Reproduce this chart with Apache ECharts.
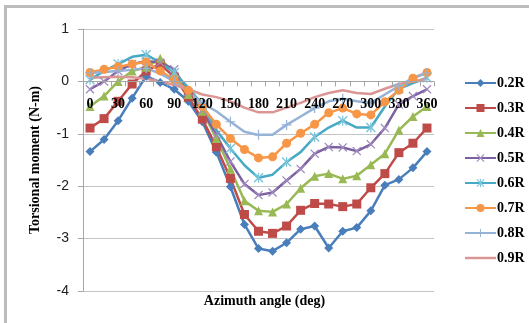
<!DOCTYPE html>
<html>
<head>
<meta charset="utf-8">
<script src="https://cdn.jsdelivr.net/npm/echarts@6.0.0/dist/echarts.min.js"></script>
<style>
  html, body { margin: 0; padding: 0; background: #fff; overflow: hidden; }
  #frame { position: absolute; left: 4px; top: 5px; width: 560px; height: 340px; border: 3px solid #bcbcbc; }
  #chart { position: absolute; left: 0; top: 0; width: 529px; height: 323px; }
</style>
</head>
<body>
<div id="frame"></div>
<div id="chart"></div>
<script>
// 方位角 (deg)
const angles = ['0', '15', '30', '45', '60', '75', '90', '105', '120', '135', '150', '165', '180',
  '195', '210', '225', '240', '255', '270', '285', '300', '315', '330', '345', '360']

const r02 = [-1.34, -1.11, -0.75, -0.32, 0.1, -0.02, -0.15, -0.38, -0.77, -1.35, -2.01, -2.73, -3.19,
  -3.24, -3.08, -2.82, -2.76, -3.18, -2.86, -2.79, -2.47, -1.98, -1.87, -1.65, -1.34]
const r03 = [-0.89, -0.71, -0.38, -0.05, 0.2, 0.33, 0.08, -0.3, -0.72, -1.25, -1.85, -2.54, -2.86,
  -2.9, -2.76, -2.46, -2.33, -2.34, -2.39, -2.34, -2.03, -1.76, -1.36, -1.18, -0.89]
const r04 = [-0.48, -0.28, 0.0, 0.2, 0.27, 0.44, 0.15, -0.25, -0.57, -1.09, -1.67, -2.28, -2.47,
  -2.49, -2.34, -2.04, -1.81, -1.76, -1.86, -1.8, -1.59, -1.38, -0.93, -0.67, -0.48]
const r05 = [-0.15, 0.0, 0.2, 0.33, 0.39, 0.36, 0.23, -0.2, -0.55, -1.02, -1.53, -1.96, -2.17,
  -2.12, -1.89, -1.67, -1.38, -1.25, -1.26, -1.33, -1.2, -0.89, -0.44, -0.28, -0.15]
const r06 = [0.03, 0.2, 0.33, 0.47, 0.51, 0.36, 0.17, -0.12, -0.44, -0.93, -1.28, -1.6, -1.84,
  -1.78, -1.54, -1.35, -1.06, -0.88, -0.75, -0.88, -0.88, -0.48, -0.14, -0.03, 0.07]
const r07 = [0.17, 0.23, 0.28, 0.33, 0.37, 0.2, 0.03, -0.17, -0.48, -0.82, -1.09, -1.3, -1.46,
  -1.44, -1.18, -0.99, -0.82, -0.6, -0.51, -0.62, -0.64, -0.39, -0.17, 0.06, 0.17]
const r08 = [0.16, 0.18, 0.2, 0.22, 0.25, 0.15, 0.0, -0.2, -0.42, -0.57, -0.77, -0.96, -1.02,
  -1.02, -0.83, -0.67, -0.51, -0.38, -0.33, -0.38, -0.41, -0.25, -0.09, 0.07, 0.16]
const r09 = [0.07, 0.08, 0.09, 0.08, 0.05, 0.0, -0.07, -0.15, -0.25, -0.3, -0.38, -0.5, -0.59,
  -0.59, -0.5, -0.41, -0.3, -0.22, -0.17, -0.22, -0.24, -0.14, -0.05, 0.0, 0.05]

const names = ['0.2R', '0.3R', '0.4R', '0.5R', '0.6R', '0.7R', '0.8R', '0.9R']
const yTicks = [-4, -3, -2, -1, 0, 1]

// 标记形状
const X_MARK = 'path://M0,1L1,0L5,4L9,0L10,1L6,5L10,9L9,10L5,6L1,10L0,9L4,5Z'
const STAR_MARK = 'path://M0,1L1,0L5,4L9,0L10,1L6,5L10,9L9,10L5,6L1,10L0,9L4,5Z M4.4,0L5.6,0L5.6,10L4.4,10Z'
const PLUS_MARK = 'path://M4.4,0H5.6V4.4H10V5.6H5.6V10H4.4V5.6H0V4.4H4.4Z'
const BAR_MARK = 'path://M0,0H48V3.8H0Z'

const styles = [
  { color: '#4A7EBB', symbol: 'diamond', size: 9 },
  { color: '#BE4B48', symbol: 'rect', size: 9 },
  { color: '#98B954', symbol: 'triangle', size: 9 },
  { color: '#7D60A0', symbol: X_MARK, size: 9, markColor: '#A08CC0' },
  { color: '#46AAC5', symbol: STAR_MARK, size: 10, markColor: '#7CC4DA' },
  { color: '#F79646', symbol: 'circle', size: 9 },
  { color: '#95B3D7', symbol: PLUS_MARK, size: 10 },
  { color: '#D99694', symbol: 'none', size: 0 }
]

const seriesData = [r02, r03, r04, r05, r06, r07, r08, r09]

// 网格
const gridTop = 29
const gridBottom = 32
const plotH = 323 - gridTop - gridBottom
const zeroFromBottom = plotH * (0 - yTicks[0]) / (yTicks[yTicks.length - 1] - yTicks[0])

const option = {
  animation: false,
  backgroundColor: 'transparent',
  grid: { left: 83, right: 95, top: gridTop, bottom: gridBottom },
  legend: {
    orient: 'vertical',
    left: 459,
    top: 71,
    itemWidth: 31,
    itemHeight: 10,
    itemGap: 11,
    data: names.map(n => n === '0.9R' ? { name: n, icon: BAR_MARK } : n),
    textStyle: { fontFamily: 'Liberation Serif', fontWeight: 'bold', fontSize: 14, color: '#000', padding: [0, 0, 0, -4] }
  },
  graphic: [
    {
      type: 'text', left: 'center', top: 294,
      style: { text: 'Azimuth angle (deg)', font: 'bold 14px "Liberation Serif"', fill: '#000' },
      x: -5
    },
    {
      type: 'text', x: 35, y: 160, rotation: Math.PI / 2,
      style: { text: 'Torsional moment (N-m)', font: 'bold 14px "Liberation Serif"', fill: '#000', align: 'center', verticalAlign: 'middle' }
    }
  ],
  xAxis: {
    type: 'category',
    data: angles,
    boundaryGap: true,
    position: 'bottom',
    offset: -zeroFromBottom,
    z: 5,
    axisLine: { onZero: false, lineStyle: { color: '#a6a6a6', width: 1 } },
    axisTick: { show: true, interval: 0, length: 5, lineStyle: { color: '#a6a6a6' } },
    axisLabel: { interval: 1, margin: 16, hideOverlap: false, fontFamily: 'Liberation Serif', fontWeight: 'bold', fontSize: 14, color: '#000' },
    splitLine: { show: false }
  },
  yAxis: {
    type: 'value',
    min: yTicks[0],
    max: yTicks[yTicks.length - 1],
    interval: 1,
    axisLine: { show: true, lineStyle: { color: '#a6a6a6' } },
    axisTick: { show: true, length: 5, lineStyle: { color: '#a6a6a6' } },
    axisLabel: { margin: 14, fontFamily: 'Liberation Sans', fontSize: 14, color: '#222' },
    splitLine: { lineStyle: { color: '#c4c4c4', width: 1 } }
  },
  series: seriesData.map((d, i) => ({
    name: names[i],
    type: 'line',
    data: d,
    symbol: styles[i].symbol,
    symbolSize: styles[i].size,
    showSymbol: styles[i].symbol !== 'none',
    lineStyle: { color: styles[i].color, width: 2.5 },
    itemStyle: { color: styles[i].markColor || styles[i].color },
    emphasis: { disabled: true }
  }))
}

const chart = echarts.init(document.getElementById('chart'), null, { renderer: 'canvas' })
chart.setOption(option)
</script>
</body>
</html>
